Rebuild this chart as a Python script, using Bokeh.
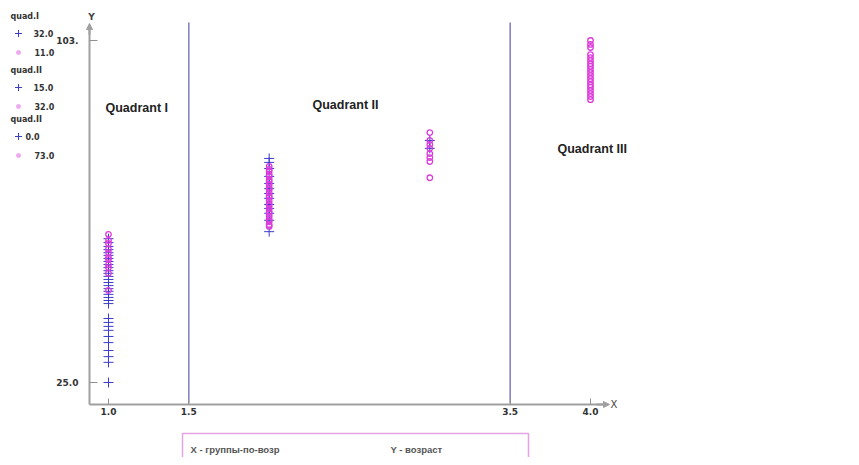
from bokeh.plotting import figure
from bokeh.models import (LinearAxis, FixedTicker, Label, Arrow, NormalHead,
                          Range1d, NumeralTickFormatter)
from bokeh.embed import file_html
from bokeh.resources import INLINE

# ---------------- data ----------------
groups = [1.0, 2.0, 3.0, 4.0]
quad_dividers = [1.5, 3.5]
x_ticks = [1.0, 1.5, 3.5, 4.0]
y_ticks = [25, 103]
y_tick_labels = {25: "25.0", 103: "103."}

grp1_plus = [57.8, 56.9, 56.0, 55.3, 54.6, 54.0, 53.3, 52.6, 51.9, 51.2, 50.5,
             49.9, 49.2, 48.5, 47.8, 47.1, 46.4, 45.8, 45.1, 44.4, 43.7, 43.0,
             39.6, 38.7, 37.8, 36.9, 35.5, 34.1, 32.3, 30.9, 29.6, 25.0]
grp1_circ = [58.8, 57.4, 56.7, 55.4, 54.6, 53.5, 53.1, 51.9, 51.2, 49.9, 46.0]
grp2_plus = [76.1, 75.2, 73.8, 72.0, 70.4, 69.2, 68.1, 67.0, 65.6, 64.7, 63.6,
             62.0, 59.4]
grp2_circ = [74.3, 73.6, 73.1, 72.4, 72.0, 71.3, 70.8, 70.2, 69.5, 69.0, 68.3,
             67.6, 67.2, 66.5, 65.8, 65.4, 64.7, 64.0, 63.5, 62.9, 62.2, 61.7,
             61.0, 60.6]
grp3_plus = [80.2, 78.4]
grp3_circ = [82.0, 80.2, 79.3, 78.4, 77.2, 76.3, 75.4, 71.7]
grp4_circ = [103.0, 102.1, 101.4, 99.8, 99.1, 98.4, 97.7, 97.1, 96.4, 95.7,
             95.0, 94.3, 93.6, 92.9, 92.3, 91.6, 90.9, 90.2, 89.5]

legend_titles = ["quad.I", "quad.II", "quad.II"]
legend_plus = ["32.0", "15.0", "0.0"]
legend_circ = ["11.0", "32.0", "73.0"]
quad_names = ["Quadrant I", "Quadrant II", "Quadrant III"]
x_title = "X - группы-по-возр"
y_title = "Y - возраст"

# ---------------- layout helpers (picture pixel -> data) ----------------
W, H = 843, 457
def X(px):
    return 1.0 + (px - 108) / 160.667
def Y(py):
    return 25.0 + (382 - py) / 4.38462

p = figure(width=W, height=H, output_backend="svg", toolbar_location=None,
           x_axis_type=None, y_axis_type=None,
           x_range=Range1d(X(0), X(W)), y_range=Range1d(Y(H), Y(0)),
           min_border=0, outline_line_color=None)
p.background_fill_color = "white"

AX = "#a0a0a0"
TICK_FONT = "DejaVu Sans"

xaxis = LinearAxis(fixed_location=Y(404), ticker=FixedTicker(ticks=x_ticks),
                   formatter=NumeralTickFormatter(format="0.0"),
                   bounds=(X(89), X(604)),
                   axis_line_color=AX, axis_line_width=2,
                   major_tick_in=6, major_tick_out=0,
                   major_tick_line_color="#909090",
                   minor_tick_line_color=None,
                   major_label_text_font=TICK_FONT,
                   major_label_text_font_style="bold",
                   major_label_text_font_size="9px",
                   major_label_text_color="#333333",
                   major_label_standoff=3)
p.add_layout(xaxis, "below")

yaxis = LinearAxis(fixed_location=X(89), ticker=FixedTicker(ticks=y_ticks),
                   major_label_overrides=y_tick_labels,
                   bounds=(Y(404), Y(26)),
                   axis_line_color=AX, axis_line_width=2,
                   major_tick_in=8, major_tick_out=0,
                   major_tick_line_color="#909090",
                   minor_tick_line_color=None,
                   major_label_text_font=TICK_FONT,
                   major_label_text_font_style="bold",
                   major_label_text_font_size="9px",
                   major_label_text_color="#333333",
                   major_label_standoff=11)
p.add_layout(yaxis, "left")

# axis arrows
p.add_layout(Arrow(end=NormalHead(size=6, fill_color=AX, line_color=AX),
                   x_start=X(89), y_start=Y(34), x_end=X(89), y_end=Y(23),
                   line_color=AX, line_width=2))
p.add_layout(Arrow(end=NormalHead(size=6, fill_color=AX, line_color=AX),
                   x_start=X(596), y_start=Y(404), x_end=X(609), y_end=Y(404),
                   line_color=AX, line_width=2))
p.add_layout(Label(x=X(91), y=Y(16), text="Y", text_font=TICK_FONT,
                   text_font_size="9px", text_font_style="bold",
                   text_color="#444444", text_align="center",
                   text_baseline="middle"))
p.add_layout(Label(x=X(610), y=Y(404), text="X", text_font=TICK_FONT,
                   text_font_size="10px", text_color="#444444",
                   text_align="left", text_baseline="middle"))

# quadrant divider lines
p.segment(x0=quad_dividers, y0=[Y(403)] * len(quad_dividers),
          x1=quad_dividers, y1=[Y(22)] * len(quad_dividers),
          line_color="#7c7cc4", line_width=1.5)

# quadrant labels
quad_pos = [(105, 107), (312, 104), (557, 148)]
for name, (lx, ly) in zip(quad_names, quad_pos):
    p.add_layout(Label(x=X(lx), y=Y(ly), text=name,
                       text_font="Liberation Sans", text_font_style="bold",
                       text_font_size="12.5px", text_color="#222222",
                       text_align="left", text_baseline="middle"))

# data points
PLUS = "#3c3cd0"
CIRC = "#dc3cdc"
plus_sets = [grp1_plus, grp2_plus, grp3_plus]
circ_sets = [grp1_circ, grp2_circ, grp3_circ, grp4_circ]
for gx, ys in zip(groups, plus_sets):
    p.scatter(x=[gx] * len(ys), y=ys, marker="cross", size=10,
              line_color=PLUS, line_width=1)
for gx, ys in zip(groups, circ_sets):
    p.scatter(x=[gx] * len(ys), y=ys, marker="circle", size=5.5,
              line_color=CIRC, fill_color=None, line_width=1.3)

# left legend
LEG = "#333333"
title_y = [16, 70, 119]
for i, t in enumerate(legend_titles):
    ty = title_y[i]
    p.add_layout(Label(x=X(10), y=Y(ty), text=t, text_font=TICK_FONT,
                       text_font_style="bold", text_font_size="8px",
                       text_color=LEG, text_align="left",
                       text_baseline="middle"))
    plus_y = ty + 17
    circ_y = ty + 36
    p.scatter(x=[X(18)], y=[Y(plus_y)], marker="cross", size=7,
              line_color=PLUS, line_width=1)
    p.scatter(x=[X(18)], y=[Y(circ_y)], marker="circle", size=4,
              line_color="#f0a8f0", fill_color="#f0a8f0")
    p.add_layout(Label(x=X(25 if legend_plus[i] == "0.0" else 33), y=Y(plus_y),
                       text=legend_plus[i], text_font=TICK_FONT,
                       text_font_style="bold", text_font_size="8px",
                       text_color=LEG, text_align="left",
                       text_baseline="middle"))
    p.add_layout(Label(x=X(34), y=Y(circ_y), text=legend_circ[i],
                       text_font=TICK_FONT, text_font_style="bold",
                       text_font_size="8px", text_color=LEG,
                       text_align="left", text_baseline="middle"))

# bottom axis-title box
p.quad(left=[X(182)], right=[X(528)], top=[Y(433)], bottom=[Y(480)],
       fill_color=None, line_color="#e4a4e4", line_width=1.5)
p.add_layout(Label(x=X(190), y=Y(449), text=x_title,
                   text_font="Liberation Sans", text_font_style="bold",
                   text_font_size="9.5px", text_color="#555555",
                   text_align="left", text_baseline="middle"))
p.add_layout(Label(x=X(390), y=Y(449), text=y_title,
                   text_font="Liberation Sans", text_font_style="bold",
                   text_font_size="9.5px", text_color="#555555",
                   text_align="left", text_baseline="middle"))

open("out.html", "w").write(file_html(p, INLINE))
